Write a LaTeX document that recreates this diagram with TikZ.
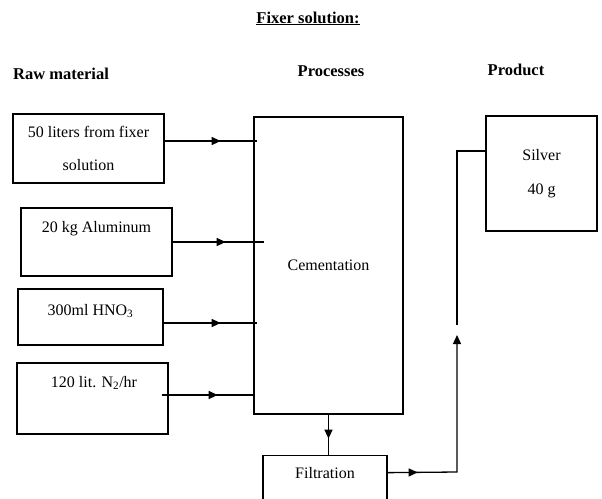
\documentclass[tikz,border=0pt]{standalone}
\usepackage{fontspec}
\setmainfont{Liberation Serif}
\usetikzlibrary{arrows.meta, decorations.markings, positioning}

\begin{document}
\begin{tikzpicture}[x=1pt, y=-1pt, line width=1.3pt,
  >={Triangle[length=9pt, width=8pt]},
  box/.style={draw, inner sep=0pt, align=center},
  txt/.style={font=\fontsize{16}{33}\selectfont},
  head/.style={font=\fontsize{16.5}{20}\selectfont\bfseries, anchor=base},
  flow/.style={decoration={markings, mark=at position #1 with {\arrow{>}}},
    postaction={decorate}}]
  \useasboundingbox (0,0) rectangle (602,498);
  \clip (0,0) rectangle (602,498);

  % headings
  \node[head] (title) at (308,23) {\underline{Fixer solution:}};
  \node[head] (rawhead) at (61,79) {Raw material};
  \node[head] (prochead) at (331,76) {Processes};
  \node[head] (prodhead) at (516,75) {Product};

  % raw materials
  \node[box, txt, minimum width=151pt, minimum height=69pt] (raw1) at (88.5,148.5) {50 liters from fixer\\solution};
  \node[box, minimum width=151pt, minimum height=68pt] (raw2) at (96.5,242) {};
  \node[box, minimum width=145pt, minimum height=56pt] (raw3) at (90.5,317) {};
  \node[box, minimum width=151pt, minimum height=71pt] (raw4) at (92.5,398.5) {};
  \node[txt, anchor=base] (raw2txt) at ([yshift=-25pt]raw2.north) {20 kg Aluminum};
  \node[txt, anchor=base] (raw3txt) at ([yshift=-27pt]raw3.north) {300ml HNO\textsubscript{3}};
  \node[txt, anchor=base] (raw4txt) at ([xshift=1.5pt, yshift=-25pt]raw4.north) {120 lit. N\textsubscript{2}/hr};

  % processes
  \node[box, txt, minimum width=149pt, minimum height=297pt] (cem) at (328.5,265.5) {Cementation};
  \node[box, minimum width=124pt, minimum height=60pt, anchor=north] (filt) at (325,455) {};
  \node[txt, anchor=base] (filttxt) at ([yshift=-23pt]filt.north) {Filtration};

  % product
  \node[box, txt, font=\fontsize{16}{34}\selectfont, minimum width=111pt, minimum height=115pt] (silver) at (541.5,173.5) {Silver\\40 g};

  % feeds into cementation
  \draw[flow=56pt, shorten >=-4pt] ([yshift=7.5pt]raw1.east) -- ([yshift=7.5pt]raw1.east -| cem.west);
  \draw[flow=53pt, shorten >=-11pt] (raw2.east) -- (raw2.east -| cem.west);
  \draw[flow=57pt, shorten >=-4pt] ([yshift=-6pt]raw3.east) -- ([yshift=-6pt]raw3.east -| cem.west);
  \draw[flow=56pt, shorten >=-1pt] ([xshift=-7pt, yshift=3.5pt]raw4.east) -- ([yshift=3.5pt]raw4.east -| cem.west);

  % cementation -> filtration -> silver
  \draw[flow=24pt] (cem.south) -- (cem.south |- filt.north);
  \coordinate (rise) at (457,472);
  \coordinate (risetip) at (457,335);
  \coordinate (risetop) at (457,325);
  \draw[flow=30pt, ->] ([yshift=13pt]filt.east) -- (rise) -- (risetip);
  \draw (risetop) |- ([yshift=22.5pt]silver.west);
\end{tikzpicture}
\end{document}
